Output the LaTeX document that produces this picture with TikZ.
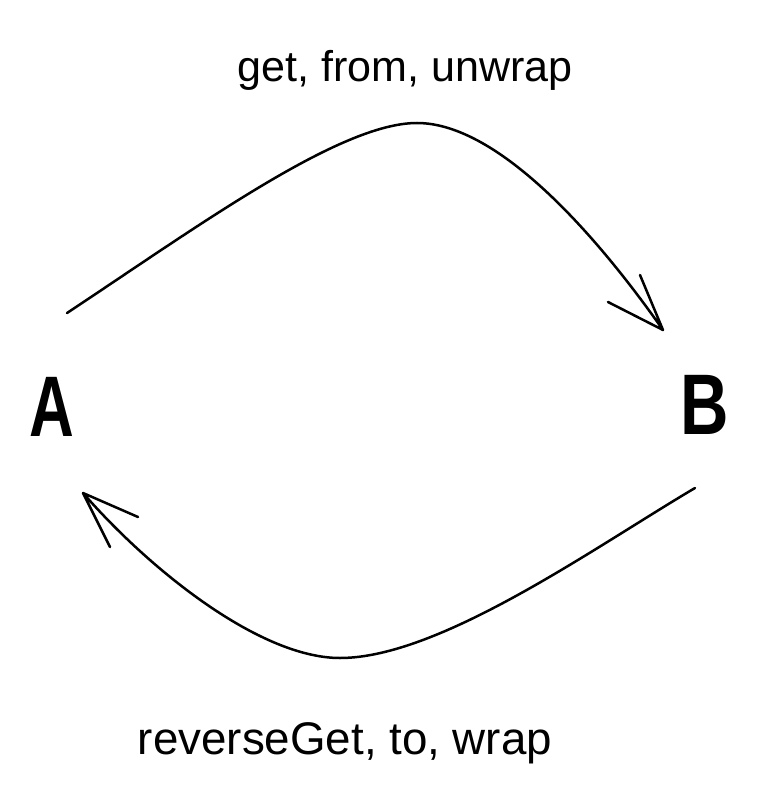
\documentclass[tikz,border=0pt]{standalone}
\usepackage{fontspec}
\setmainfont{Liberation Sans}
\begin{document}
\begin{tikzpicture}[x=1pt,y=-1pt,
  conn/.style={line width=2.5pt, line cap=round, line join=round},
  lbl/.style={inner sep=0pt, anchor=center},
  letter/.style={inner sep=0pt, anchor=center, font=\fontsize{86}{90}\selectfont\bfseries}]
\useasboundingbox (0,0) rectangle (777,802);
% nodes
\node[letter] (A) at (52,407) {\scalebox{0.72}[1]{A}};
\node[letter] (B) at (705,405) {\scalebox{0.78}[1]{B}};
\node[lbl] (top) at (405,70) {\resizebox{335pt}{!}{get, from, unwrap}};
\node[lbl] (bot) at (345,743) {\resizebox{414pt}{!}{reverseGet, to, wrap}};
% connector end points
\coordinate (s1) at (67,313);
\coordinate (p1) at (417,123);
\coordinate (t1) at (663,330);
\coordinate (b1a) at (608,302);
\coordinate (b1b) at (640,275);
\coordinate (s2) at (695,488);
\coordinate (p2) at (340,658);
\coordinate (t2) at (83,493);
\coordinate (b2a) at (138,517);
\coordinate (b2b) at (110,547);
% A -> B
\draw[conn] (s1) .. controls (200,225) and (340,123) .. (p1)
  .. controls (500,123) and (600,240) .. (t1)
  (b1a) -- (t1) -- (b1b);
% B -> A
\draw[conn] (s2) .. controls (595,547) and (440,658) .. (p2)
  .. controls (260,658) and (150,570) .. (t2)
  (b2a) -- (t2) -- (b2b);
\end{tikzpicture}
\end{document}
